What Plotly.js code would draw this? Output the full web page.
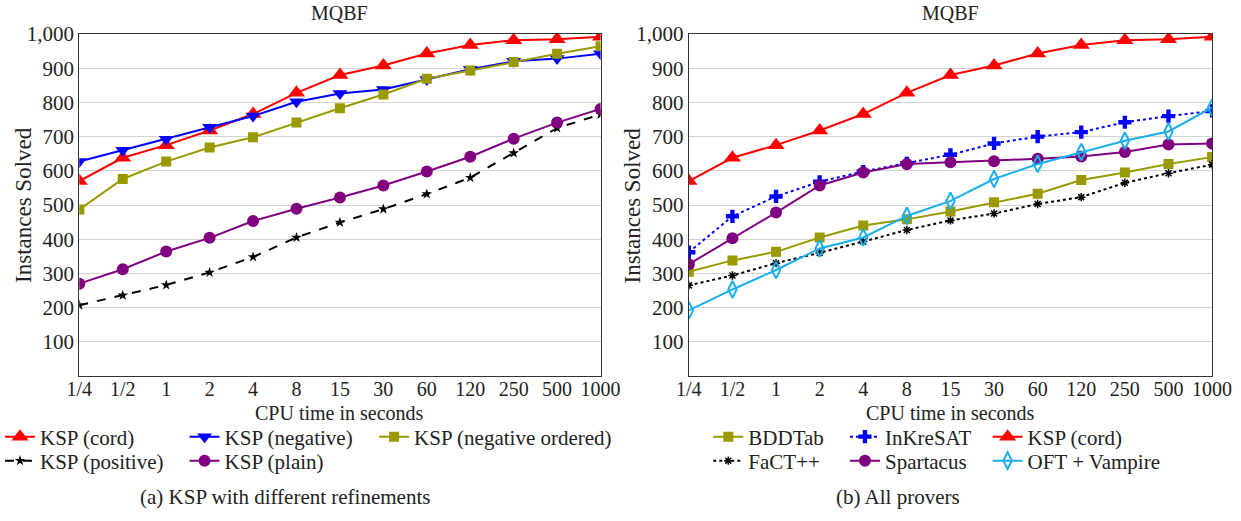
<!DOCTYPE html>
<html><head><meta charset="utf-8">
<script src="https://cdn.plot.ly/plotly-3.0.1.min.js"></script>
<style>body{margin:0;padding:0;background:#fff}#chart{width:1241px;height:521px}</style>
</head><body><div id="chart"></div>
<script>
const times = ["1/4","1/2","1","2","4","8","15","30","60","120","250","500","1000"];
const yTicks = [100,200,300,400,500,600,700,800,900,1000];

// (a) KSP with different refinements
const kspCord     = [570, 638, 675, 718, 766, 828, 880, 908, 943, 968, 982, 985, 992];
const kspNegative = [627, 660, 692, 727, 760, 802, 826, 838, 867, 897, 920, 928, 942];
const kspNegOrd   = [487, 576, 627, 668, 698, 741, 783, 823, 869, 893, 918, 942, 964];
const kspPositive = [207, 236, 266, 303, 348, 405, 449, 488, 532, 580, 652, 725, 765];
const kspPlain    = [270, 312, 364, 404, 453, 489, 522, 557, 598, 641, 694, 741, 781];

// (b) All provers
const bddTab      = [305, 338, 363, 405, 440, 458, 481, 508, 533, 573, 595, 620, 640];
const inKreSAT    = [362, 467, 525, 568, 598, 622, 647, 680, 700, 713, 742, 760, 775];
const factpp      = [265, 294, 330, 360, 393, 427, 455, 475, 503, 523, 565, 593, 618];
const spartacus   = [327, 403, 478, 557, 595, 620, 625, 628, 635, 642, 655, 677, 680];
const oftVampire  = [192, 253, 310, 373, 405, 468, 512, 576, 620, 655, 688, 715, 785];

const RED="#ff0000", BLUE="#0000ff", OLIVE="#9a9a00", PURPLE="#800080", CYAN="#1aaeee", BLACK="#000000";
const FONT = "'Liberation Serif', 'DejaVu Serif', serif";
const TXT = "#222";

function tr(name, y, color, symbol, size, dash, xa, ya, legend, mline) {
  return {
    type: "scatter", mode: "lines+markers", name: name, x: times, y: y,
    xaxis: xa, yaxis: ya, legend: legend,
    line: {color: color, width: 2, dash: dash},
    marker: {color: color, symbol: symbol, size: size, line: mline || {width: 0}}
  };
}

const data = [
  tr("KSP (cord)", kspCord, RED, "triangle-up", 15, "solid", "x", "y", "legend"),
  tr("KSP (negative)", kspNegative, BLUE, "triangle-down", 13, "solid", "x", "y", "legend2"),
  tr("KSP (negative ordered)", kspNegOrd, OLIVE, "square", 10, "solid", "x", "y", "legend3"),
  tr("KSP (positive)", kspPositive, BLACK, "star", 8, "dash", "x", "y", "legend4"),
  tr("KSP (plain)", kspPlain, PURPLE, "circle", 12, "solid", "x", "y", "legend5"),

  tr("BDDTab", bddTab, OLIVE, "square", 10, "solid", "x2", "y2", "legend6"),
  tr("InKreSAT", inKreSAT, BLUE, "cross", 11, "dot", "x2", "y2", "legend7"),
  tr("KSP (cord)", kspCord, RED, "triangle-up", 15, "solid", "x2", "y2", "legend8"),
  tr("FaCT++", factpp, BLACK, "asterisk-open", 7, "dot", "x2", "y2", "legend9", {color: BLACK, width: 1.5}),
  tr("Spartacus", spartacus, PURPLE, "circle", 12, "solid", "x2", "y2", "legend10"),
  tr("OFT + Vampire", oftVampire, CYAN, "diamond-tall-open", 12, "solid", "x2", "y2", "legend11", {color: CYAN, width: 2})
];

const W = 1241, H = 521;
const yDom = [1 - 376/H, 1 - 34/H];
function xaxis(dom, anchor) {
  return {
    domain: dom, anchor: anchor, type: "category", range: [0, 12],
    showline: true, mirror: true, linecolor: "#333", linewidth: 1.2,
    showgrid: false, ticks: "", ticklabelstandoff: -5,
    tickfont: {family: FONT, size: 20, color: TXT},
    fixedrange: true
  };
}
function yaxis(dom, anchor) {
  return {
    domain: dom, anchor: anchor, range: [0, 1000], tickvals: yTicks, tickformat: ",d",
    showline: true, mirror: true, linecolor: "#333", linewidth: 1.2,
    showgrid: true, gridcolor: "#d4d4d4", gridwidth: 1, zeroline: false,
    ticks: "", tickfont: {family: FONT, size: 21, color: TXT},
    fixedrange: true
  };
}
function leg(textX, cy) {
  return {
    x: (textX - 41) / W, xanchor: "left", y: 1 - cy / H, yanchor: "middle",
    orientation: "v", bgcolor: "rgba(0,0,0,0)", borderwidth: 0, itemwidth: 30,
    font: {family: FONT, size: 21, color: TXT}
  };
}
const r1 = 437, r2 = 461;
function ann(text, xpx, ypx, size, angle) {
  return {text: text, xref: "paper", yref: "paper", x: xpx / W, y: 1 - ypx / H,
    xanchor: "center", yanchor: "middle", showarrow: false, textangle: angle || 0,
    font: {family: FONT, size: size, color: TXT}};
}
const layout = {
  width: W, height: H, margin: {l: 0, r: 0, t: 0, b: 0},
  paper_bgcolor: "#fff", plot_bgcolor: "#fff", showlegend: true,
  xaxis: xaxis([76.5/W, 599/W], "y"),
  yaxis: yaxis(yDom, "x"),
  xaxis2: xaxis([687.5/W, 1212/W], "y2"),
  yaxis2: yaxis(yDom, "x2"),
  legend: leg(38, r1), legend2: leg(223, r1), legend3: leg(413, r1),
  legend4: leg(38, r2), legend5: leg(223, r2),
  legend6: leg(748, r1), legend7: leg(885, r1), legend8: leg(1028, r1),
  legend9: leg(748, r2), legend10: leg(885, r2), legend11: leg(1028, r2),
  annotations: [
    ann("MQBF", (76.5+599)/2, 13, 20),
    ann("MQBF", (687.5+1212)/2, 13, 20),
    ann("CPU time in seconds", (76.5+599)/2, 413, 20),
    ann("CPU time in seconds", (687.5+1212)/2, 413, 20),
    ann("Instances Solved", 20, 205, 23, -90),
    ann("Instances Solved", 631, 205, 23, -90),
    ann("(a) KSP with different refinements", 283, 497, 21),
    ann("(b) All provers", 897, 497, 21)
  ]
};
Plotly.newPlot("chart", data, layout, {displayModeBar: false, staticPlot: true});
</script></body></html>
